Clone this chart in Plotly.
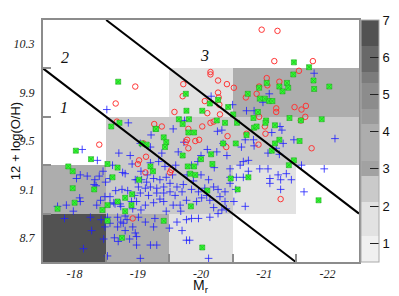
import plotly.graph_objects as go

# ---- data ----
cell_x = [-18, -19, -20, -21, -22]
cell_y = [8.7, 9.1, 9.5, 9.9, 10.3]
cell_z = [
    [6.6, 3.5, 1.6, None, None],
    [3.5, 2.6, 2.6, 1.6, None],
    [None, 2.6, 2.6, 2.6, 2.6],
    [None, None, 1.6, 3.5, 3.5],
    [None, None, None, None, None],
]

blue_pts = [
    (-18.12,9.43),(-18.36,9.34),(-18.91,9.31),(-18.76,9.24),(-18.80,9.23),(-18.09,9.22),(-18.20,9.21),(-18.03,9.19),
    (-18.39,9.21),(-18.32,9.18),(-18.31,9.14),(-18.34,9.13),(-18.49,9.16),(-18.56,9.19),(-18.65,9.09),(-18.75,9.10),
    (-18.84,9.09),(-18.99,9.18),(-18.08,9.03),(-18.09,9.00),(-17.87,8.97),(-17.73,8.96),(-17.98,8.92),(-18.41,9.01),
    (-18.35,8.97),(-18.48,9.04),(-18.56,9.04),(-18.62,8.99),(-18.73,8.96),(-18.92,8.94),(-18.52,8.87),(-18.25,8.87),
    (-18.42,8.85),(-17.84,8.86),(-18.56,8.82),(-18.68,8.87),(-18.73,8.83),(-18.83,8.85),(-18.92,8.79),(-18.80,8.76),
    (-18.68,8.79),(-18.48,8.79),(-18.27,8.76),(-18.96,8.74),(-18.63,8.70),(-18.87,8.69),(-18.46,8.69),(-18.14,8.61),
    (-18.69,8.67),(-18.52,8.55),(-18.98,8.64),(-18.56,8.98),(-18.64,8.98),(-18.72,8.98),(-18.80,8.88),(-18.77,8.82),
    (-20.26,9.58),(-20.35,9.48),(-20.64,9.45),(-20.83,9.51),(-19.73,9.49),(-19.64,9.41),(-19.20,9.32),(-19.33,9.33),
    (-19.43,9.29),(-20.00,9.38),(-20.10,9.43),(-20.25,9.41),(-20.41,9.38),(-20.21,9.28),(-20.46,9.27),(-20.46,9.20),
    (-18.96,9.18),(-19.06,9.18),(-19.14,9.16),(-19.25,9.19),(-19.35,9.18),(-19.01,9.12),(-19.12,9.11),(-19.20,9.12),
    (-19.30,9.11),(-19.41,9.12),(-19.51,9.15),(-19.62,9.12),(-19.72,9.14),(-19.04,9.07),(-19.17,9.05),(-19.30,9.07),
    (-19.41,9.07),(-19.51,9.08),(-19.59,9.05),(-19.70,9.08),(-19.85,9.10),(-19.96,9.08),(-20.06,9.11),(-20.09,9.05),
    (-20.20,9.12),(-20.27,9.10),(-20.38,9.08),(-20.30,9.04),(-20.46,9.15),(-20.56,9.20),(-20.67,9.20),
    (-18.98,9.00),(-19.12,8.97),(-19.25,8.99),(-19.41,9.00),(-19.56,8.97),(-19.67,8.97),(-19.77,9.01),(-19.93,9.00),
    (-20.01,9.03),(-20.14,9.01),(-20.38,9.00),(-19.01,8.87),(-19.12,8.83),(-19.27,8.86),(-19.62,8.83),(-19.77,8.85),
    (-19.85,8.86),(-20.14,8.87),(-20.27,8.90),(-19.25,8.79),(-18.98,8.71),(-19.20,8.64),(-19.30,8.64),(-19.04,8.53),
    (-19.70,8.76),(-19.96,8.86),(-19.77,8.68),(-19.82,8.68),(-20.12,8.53),(-20.70,8.96),
    (-21.06,9.27),(-21.22,9.22),(-21.35,9.23),(-21.43,9.18),(-21.09,9.19),(-21.09,9.15),(-21.26,9.18),(-21.26,9.10),
    (-21.95,9.27),(-21.63,9.08),(-20.93,9.27),(-21.59,9.30),(-21.24,9.39),(-21.30,9.48),(-21.08,9.89),(-20.98,9.82),
    (-21.79,10.06),(-21.12,9.57),(-21.25,9.62),(-21.28,9.59),(-21.47,9.51),(-22.12,9.52),(-20.16,9.87),(-20.50,9.80),
    (-20.72,9.75),(-20.84,9.75),(-19.74,9.67),(-19.56,9.60),(-20.33,9.59),(-19.21,9.55),(-19.04,9.48),(-19.20,9.45),
    (-20.70,9.51),(-20.84,9.46),(-18.51,9.76),(-18.85,9.65),(-20.75,9.34),(-20.67,9.33),(-21.19,9.44),(-21.06,9.40),
    (-19.05,9.25),(-19.15,9.22),(-18.95,9.05),(-19.35,9.02),(-19.45,9.20),(-19.55,9.22),(-19.78,9.22),(-19.88,9.17),
    (-20.00,9.22),(-20.12,9.18),(-20.20,8.95),(-20.33,8.93),(-19.68,8.92),(-19.45,8.92),(-19.05,8.93),(-18.90,9.00),
    (-19.85,9.30),(-19.60,9.30),(-19.95,9.33),(-20.55,9.10),(-20.62,9.30),(-20.75,9.25),(-19.38,9.40),(-18.88,9.38),
    (-18.70,9.40),(-18.60,9.30),(-18.45,9.25),(-20.52,9.00),(-20.40,8.94),(-19.50,8.78),
]

red_pts = [
    (-20.96,10.42),(-21.21,10.41),(-21.16,10.16),(-21.77,10.16),(-21.55,10.08),(-20.15,10.07),(-20.15,10.05),(-20.27,10.00),
    (-20.41,9.97),(-20.52,9.94),(-18.96,9.95),(-19.72,9.97),(-19.71,9.87),(-20.27,9.90),(-20.28,9.86),(-20.06,9.83),
    (-20.29,9.80),(-20.10,9.73),(-20.30,9.72),(-19.58,9.74),(-20.71,9.86),(-20.88,9.89),(-20.92,9.95),(-21.05,9.96),
    (-21.04,10.02),(-21.24,9.99),(-21.19,9.77),(-21.19,9.74),(-21.48,9.78),(-21.59,9.76),(-21.66,9.79),(-21.65,9.70),
    (-21.58,9.67),(-21.01,9.62),(-21.02,9.56),(-21.75,9.44),(-21.26,9.02),(-20.92,9.70),(-18.65,9.81),(-18.67,9.66),
    (-18.39,9.47),(-19.26,9.64),(-19.38,9.62),(-20.02,9.62),(-20.15,9.65),(-20.20,9.66),(-19.80,9.60),(-20.42,9.54),
    (-20.72,9.56),(-19.78,9.51),(-19.97,9.51),(-19.91,9.50),(-19.76,9.49),(-19.09,9.48),(-19.80,9.44),(-20.40,9.45),
    (-20.91,9.47),(-19.13,9.37),(-19.02,9.34),(-19.00,9.31),(-19.12,9.24),(-19.51,9.24),(-19.53,9.26),(-18.92,8.86),
]

green_pts = [
    (-18.69,9.99),(-18.58,9.62),(-18.71,9.65),(-18.02,9.42),(-18.26,9.35),(-19.06,9.48),(-19.14,9.47),(-19.28,9.60),
    (-18.52,9.31),(-17.90,9.29),(-17.97,9.25),(-18.68,9.28),(-18.60,9.20),(-18.31,9.10),(-17.97,9.11),(-18.80,9.03),
    (-18.68,9.00),(-18.52,8.97),(-18.00,8.99),(-17.73,8.94),(-18.44,8.93),(-18.90,8.97),(-18.80,8.92),(-18.52,8.84),
    (-18.75,8.70),(-19.76,9.89),(-19.77,9.75),(-20.02,9.75),(-20.14,9.81),(-20.27,9.84),(-20.43,9.78),(-20.51,9.72),
    (-19.65,9.68),(-19.71,9.64),(-19.81,9.68),(-20.25,9.67),(-20.38,9.65),(-20.57,9.65),(-19.41,9.53),(-19.29,9.60),
    (-19.45,9.49),(-19.43,9.45),(-19.80,9.57),(-19.89,9.57),(-20.35,9.48),(-20.55,9.48),(-20.74,9.89),(-20.92,9.94),
    (-21.04,9.98),(-20.83,9.69),(-20.90,9.74),(-21.01,9.85),(-21.03,9.67),(-20.84,9.61),(-20.72,9.55),(-21.47,10.15),
    (-21.71,10.11),(-21.46,10.05),(-21.78,10.00),(-21.79,9.93),(-22.03,9.95),(-21.24,9.95),(-21.36,9.98),(-21.38,9.94),
    (-21.29,9.91),(-20.93,9.85),(-21.08,9.83),(-21.13,9.83),(-21.40,9.69),(-21.58,9.67),(-21.91,9.68),(-21.02,9.65),
    (-21.17,9.63),(-21.24,9.51),(-21.56,9.50),(-21.17,9.48),(-21.12,9.42),(-21.47,9.34),(-21.39,9.30),(-21.86,9.01),
    (-19.71,9.38),(-20.16,9.39),(-20.00,9.35),(-19.79,9.29),(-19.89,9.29),(-19.83,9.23),(-19.91,9.22),(-20.18,9.31),
    (-20.75,9.20),(-20.47,9.19),(-20.58,9.10),(-19.20,9.29),(-19.24,9.25),(-19.02,9.18),(-20.10,9.09),(-18.91,9.06),
    (-19.84,8.96),(-19.41,8.84),(-20.02,8.62),(-20.88,9.62),
]

line1_x = [-17.5, -21.5]
line1_y = [10.1, 8.5]
line2_x = [-18.5, -22.5]
line2_y = [10.5, 8.9]

region_labels = ["1", "2", "3"]
region_x = [-17.84, -17.85, -20.06]
region_y = [9.78, 10.19, 10.21]

x_ticks = [-18, -19, -20, -21, -22]
y_ticks = [8.7, 9.1, 9.5, 9.9, 10.3]
x_edges = [-18.5, -19.5, -20.5, -21.5]
y_edges = [8.9, 9.3, 9.7, 10.1]
cbar_ticks = [1, 2, 3, 4, 5, 6, 7]

# ---- stepped grey colour scale ----
zmin, zmax = 0.5, 7.0
bands = [(0.5, 1.2, "#f0f0f0"), (1.2, 2.1, "#e2e2e2"), (2.1, 2.8, "#cacaca"),
         (2.8, 3.2, "#a2a2a2"), (3.2, 4.2, "#adadad"), (4.2, 4.6, "#9a9a9a"),
         (4.6, 5.3, "#8c8c8c"), (5.3, 5.6, "#7c7c7c"), (5.6, 6.3, "#686868"),
         (6.3, 7.0, "#525252")]
cscale = []
for lo, hi, c in bands:
    cscale.append([(lo - zmin) / (zmax - zmin), c])
    cscale.append([(hi - zmin) / (zmax - zmin), c])
cscale[0][0] = 0.0
cscale[-1][0] = 1.0

fig = go.Figure()
fig.add_trace(go.Heatmap(
    x=cell_x, y=cell_y, z=cell_z, zmin=zmin, zmax=zmax, colorscale=cscale,
    hoverongaps=False,
    colorbar=dict(x=1.006, xanchor="left", xpad=0, ypad=0, y=0.5, yanchor="middle",
                  len=1, thickness=18, outlinewidth=1, outlinecolor="#aaaaaa",
                  tickvals=cbar_ticks, ticks="inside", ticklen=9, tickcolor="#222222",
                  tickwidth=1.2,
                  tickfont=dict(family="Liberation Sans", size=13, color="#111111")),
))
fig.add_trace(go.Scatter(
    x=[p[0] for p in blue_pts], y=[p[1] for p in blue_pts], mode="markers",
    marker=dict(symbol="cross-thin", size=5.5, line=dict(color="rgba(30,30,255,0.8)", width=1)),
))
fig.add_trace(go.Scatter(
    x=[p[0] for p in red_pts], y=[p[1] for p in red_pts], mode="markers",
    marker=dict(symbol="circle-open", size=5.5, color="#ff3535", line=dict(width=1)),
))
fig.add_trace(go.Scatter(
    x=[p[0] for p in green_pts], y=[p[1] for p in green_pts], mode="markers",
    marker=dict(symbol="square-x", size=5, color="#33ff33", line=dict(color="#22aa22", width=0.6)),
))
for lx, ly in ((line1_x, line1_y), (line2_x, line2_y)):
    fig.add_trace(go.Scatter(x=lx, y=ly, mode="lines", line=dict(color="black", width=2)))

for t, xx, yy in zip(region_labels, region_x, region_y):
    fig.add_annotation(x=xx, y=yy, text=t, showarrow=False,
                       font=dict(family="Liberation Serif", size=16, style="italic", color="#111111"))

# axis titles as paper annotations (page has an 8px body margin)
fig.add_annotation(x=-0.088, y=0.5, xref="paper", yref="paper", text="12 + log(O/H)",
                   textangle=-90, showarrow=False, xanchor="center", yanchor="middle",
                   font=dict(family="Liberation Sans", size=13, color="#111111"))
fig.add_annotation(x=0.5, y=-0.098, xref="paper", yref="paper", text="M<sub>r</sub>",
                   showarrow=False, xanchor="center", yanchor="middle",
                   font=dict(family="Liberation Sans", size=14, color="#111111"))

axis_common = dict(showgrid=False, zeroline=False, showline=True, linecolor="#8c8c8c",
                   linewidth=2, mirror=True, ticks="", automargin=False,
                   tickfont=dict(family="Liberation Serif", size=12, style="italic", color="#222222"))
fig.update_xaxes(range=[-17.5, -22.5], tickvals=x_ticks, ticktext=[str(v) for v in x_ticks],
                 minor=dict(tickmode="array", tickvals=x_edges, ticks="inside", ticklen=8,
                            tickcolor="#8c8c8c", tickwidth=1.5),
                 **axis_common)
fig.update_yaxes(range=[8.5, 10.5], tickvals=y_ticks, ticktext=[f"{v:.1f}" for v in y_ticks],
                 minor=dict(tickmode="array", tickvals=y_edges, ticks="inside", ticklen=8,
                            tickcolor="#8c8c8c", tickwidth=1.5),
                 ticklabelstandoff=4,
                 **axis_common)
fig.update_layout(width=391, height=288, margin=dict(l=35, r=40, t=12, b=34, autoexpand=False),
                  plot_bgcolor="white", paper_bgcolor="white", showlegend=False)
fig.write_html("out.html")
